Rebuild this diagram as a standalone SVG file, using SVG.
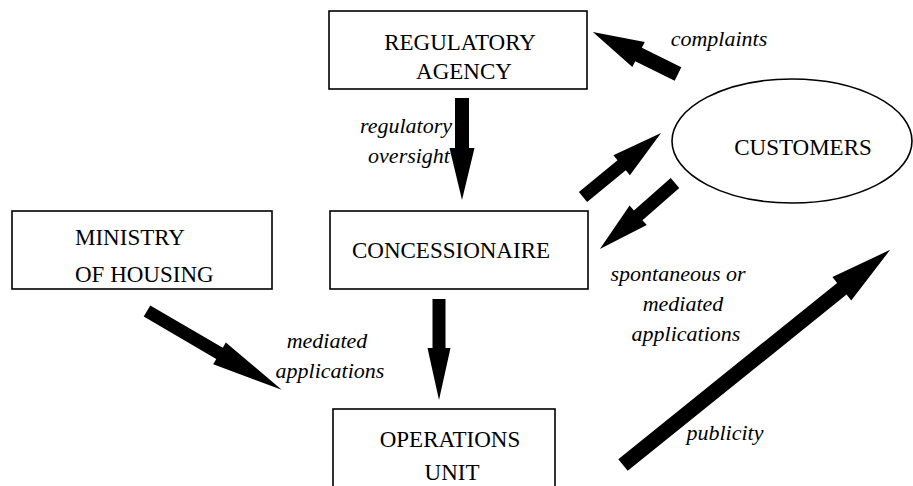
<svg xmlns="http://www.w3.org/2000/svg" width="913" height="486" viewBox="0 0 913 486">
<rect width="913" height="486" fill="#fff"/>
<g id="connectors" fill="#000">
  <polygon transform="translate(462,98) rotate(90)" points="0,-7 50,-7 50,-12.5 102,0 50,12.5 50,7 0,7"/>
  <polygon transform="translate(439,299) rotate(90)" points="0,-6.5 49,-6.5 49,-11.5 101,0 49,11.5 49,6.5 0,6.5"/>
  <polygon transform="translate(678,74) rotate(-153.7)" points="0,-7.5 44,-7.5 44,-14 95,0 44,14 44,7.5 0,7.5"/>
  <polygon transform="translate(583,197) rotate(-39.4)" points="0,-6.5 50,-6.5 50,-13 101,0 50,13 50,6.5 0,6.5"/>
  <polygon transform="translate(675,183) rotate(138.7)" points="0,-6.5 49,-6.5 49,-13 100,0 49,13 49,6.5 0,6.5"/>
  <polygon transform="translate(147,311) rotate(30.3)" points="0,-6.5 84,-6.5 84,-12.5 156,0 84,12.5 84,6.5 0,6.5"/>
  <polygon transform="translate(623,465) rotate(-38.85)" points="0,-7.5 281,-7.5 281,-15 343,0 281,15 281,7.5 0,7.5"/>
</g>
<g id="regulatory-agency">
  <rect x="329" y="11" width="258" height="78" fill="#fff" stroke="#000" stroke-width="1.6"/>
  <text x="460" y="50" text-anchor="middle" font-family="Liberation Serif" font-size="23">REGULATORY</text>
  <text x="464" y="79" text-anchor="middle" font-family="Liberation Serif" font-size="23">AGENCY</text>
</g>
<g id="customers">
  <ellipse cx="792" cy="141" rx="120" ry="62" fill="#fff" stroke="#000" stroke-width="1.6"/>
  <text x="803" y="155" text-anchor="middle" font-family="Liberation Serif" font-size="23">CUSTOMERS</text>
</g>
<g id="ministry-of-housing">
  <rect x="12" y="211" width="260" height="78" fill="#fff" stroke="#000" stroke-width="1.6"/>
  <text x="75" y="245" font-family="Liberation Serif" font-size="23">MINISTRY</text>
  <text x="75" y="282" font-family="Liberation Serif" font-size="23">OF HOUSING</text>
</g>
<g id="concessionaire">
  <rect x="330" y="211" width="258" height="78" fill="#fff" stroke="#000" stroke-width="1.6"/>
  <text x="451" y="258" text-anchor="middle" font-family="Liberation Serif" font-size="23">CONCESSIONAIRE</text>
</g>
<g id="operations-unit">
  <rect x="333" y="409" width="222" height="90" fill="#fff" stroke="#000" stroke-width="1.6"/>
  <text x="450" y="447" text-anchor="middle" font-family="Liberation Serif" font-size="23">OPERATIONS</text>
  <text x="452" y="480" text-anchor="middle" font-family="Liberation Serif" font-size="23">UNIT</text>
</g>
<g id="labels">
  <text x="719" y="46" text-anchor="middle" font-family="Liberation Serif" font-style="italic" font-size="22">complaints</text>
  <text x="452" y="133" text-anchor="end" font-family="Liberation Serif" font-style="italic" font-size="22">regulatory</text>
  <text x="450" y="163" text-anchor="end" font-family="Liberation Serif" font-style="italic" font-size="22">oversight</text>
  <text x="678" y="281" text-anchor="middle" font-family="Liberation Serif" font-style="italic" font-size="22">spontaneous or</text>
  <text x="683" y="311" text-anchor="middle" font-family="Liberation Serif" font-style="italic" font-size="22">mediated</text>
  <text x="686" y="341" text-anchor="middle" font-family="Liberation Serif" font-style="italic" font-size="22">applications</text>
  <text x="327" y="348" text-anchor="middle" font-family="Liberation Serif" font-style="italic" font-size="22">mediated</text>
  <text x="330" y="378" text-anchor="middle" font-family="Liberation Serif" font-style="italic" font-size="22">applications</text>
  <text x="725" y="440" text-anchor="middle" font-family="Liberation Serif" font-style="italic" font-size="22">publicity</text>
</g>
</svg>
